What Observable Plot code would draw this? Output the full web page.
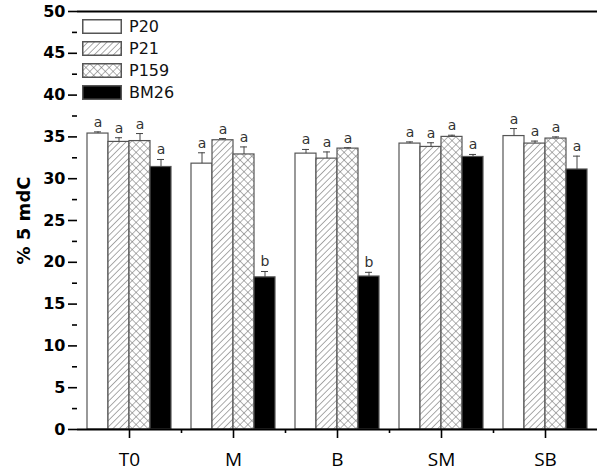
<!DOCTYPE html>
<html><head><meta charset="utf-8">
<script src="https://cdn.jsdelivr.net/npm/d3@7"></script>
<script src="https://cdn.jsdelivr.net/npm/@observablehq/plot@0.6"></script>
<style>
body{margin:0;background:#fff}
#wrap{position:relative;width:600px;height:471px}
#legend{position:absolute;left:82px;top:19px;font-family:"DejaVu Sans";font-size:16px;color:#111}
.row{display:flex;align-items:center;height:14px;margin-bottom:8px}
.row svg{margin-right:7px;display:block}
</style></head><body>
<svg width="0" height="0" style="position:absolute">
<defs>
<pattern id="hatch" patternUnits="userSpaceOnUse" width="4.5" height="4.5" patternTransform="rotate(45)">
<rect width="4.5" height="4.5" fill="white"/>
<line x1="0" y1="0" x2="0" y2="4.5" stroke="#666" stroke-width="1.1"/>
</pattern>
<pattern id="cross" patternUnits="userSpaceOnUse" width="5.5" height="5.5" patternTransform="rotate(45)">
<rect width="5.5" height="5.5" fill="white"/>
<line x1="0" y1="0" x2="0" y2="5.5" stroke="#666" stroke-width="1"/>
<line x1="0" y1="0" x2="5.5" y2="0" stroke="#666" stroke-width="1"/>
</pattern>
</defs>
</svg>
<div id="wrap">
<div id="legend"></div>
</div>
<script>
const categories = ["T0", "M", "B", "SM", "SB"];
const series = ["P20", "P21", "P159", "BM26"];
const P20 = [35.4, 31.8, 33.0, 34.2, 35.1];
const P20err = [0.2, 1.3, 0.5, 0.2, 0.9];
const P21 = [34.4, 34.6, 32.4, 33.8, 34.2];
const P21err = [0.5, 0.2, 0.8, 0.5, 0.3];
const P159 = [34.5, 32.9, 33.6, 35.0, 34.8];
const P159err = [0.9, 0.9, 0.1, 0.2, 0.2];
const BM26 = [31.4, 18.2, 18.3, 32.6, 31.1];
const BM26err = [0.9, 0.7, 0.5, 0.3, 1.6];
const BM26letters = ["a", "b", "b", "a", "a"];
const yTicks = [0, 5, 10, 15, 20, 25, 30, 35, 40, 45, 50];
const yMinor = [2.5, 7.5, 12.5, 17.5, 22.5, 27.5, 32.5, 37.5, 42.5, 47.5];

const fills = {P20: "white", P21: "url(#hatch)", P159: "url(#cross)", BM26: "black"};
const vals = {P20, P21, P159, BM26};
const errs = {P20: P20err, P21: P21err, P159: P159err, BM26: BM26err};
const data = [];
categories.forEach((c, i) => series.forEach(s => data.push({
  cat: c, series: s, value: vals[s][i], err: errs[s][i],
  letter: s === "BM26" ? BM26letters[i] : "a", fill: fills[s]
})));
const errTop = d => d.value + d.err;

const chart = Plot.plot({
  width: 600, height: 471,
  marginTop: 11, marginBottom: 42, marginLeft: 77, marginRight: 3,
  style: {fontFamily: "DejaVu Sans", background: "white", color: "black"},
  fx: {domain: categories, paddingInner: 0, paddingOuter: 0, axis: null},
  x: {domain: series, paddingInner: 0, paddingOuter: 0.476, axis: null},
  y: {domain: [0, 50], axis: null},
  color: {type: "identity"},
  marks: [
    Plot.barY(data, {fx: "cat", x: "series", y: "value", fill: "fill", stroke: "#555", strokeWidth: 1.2}),
    Plot.ruleX(data, {fx: "cat", x: "series", y1: "value", y2: errTop, stroke: "#444", strokeWidth: 1}),
    Plot.tickY(data, {fx: "cat", x: "series", y: errTop, insetLeft: 7, insetRight: 7, stroke: "#444", strokeWidth: 1}),
    Plot.text(data, {fx: "cat", x: "series", y: errTop, text: "letter", dy: -5, lineAnchor: "bottom", fontSize: 14, fill: "#333"}),
    Plot.ruleY([0, 50], {stroke: "black", strokeWidth: 2}),
    Plot.axisY({ticks: yTicks, tickSize: 9, tickPadding: 3, fontSize: 16, fontWeight: "bold", strokeWidth: 1.6, label: null, line: true}),
    Plot.axisY({ticks: yMinor, tickSize: 5, tickFormat: () => "", strokeWidth: 1.6, label: null}),
    Plot.axisY({ticks: [], label: "% 5 mdC", labelAnchor: "center", labelOffset: 60, fontSize: 18, fontWeight: "bold", labelArrow: "none"}),
    Plot.axisY({anchor: "right", ticks: [], tickSize: 0, line: true, strokeWidth: 2, label: null}),
    Plot.axisFx({anchor: "bottom", tickSize: 9, tickPadding: 14, fontSize: 19, fontFamily: "Open Sans", strokeWidth: 1.6, label: null}),
    Plot.axisFx({anchor: "bottom", ticks: categories.slice(0, 4), dx: 52, tickSize: 4, tickFormat: () => "", strokeWidth: 1.6, label: null})
  ]
});
document.getElementById("wrap").prepend(chart);

const legend = document.getElementById("legend");
series.forEach(s => {
  const row = document.createElement("div");
  row.className = "row";
  row.innerHTML = `<svg width="40" height="15"><rect x="0.75" y="0.75" width="38.5" height="13.5" fill="${fills[s]}" stroke="#555" stroke-width="1.5"/></svg><span>${s}</span>`;
  legend.appendChild(row);
});
</script>
</body></html>
